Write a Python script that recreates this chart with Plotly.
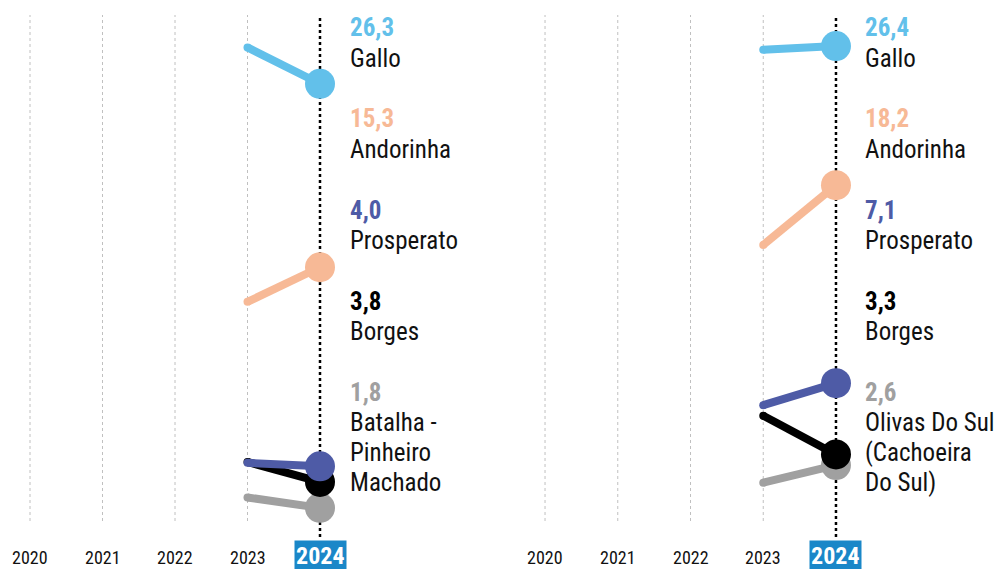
import plotly.graph_objects as go

# ---------------- data ----------------
years = [2020, 2021, 2022, 2023, 2024]
candidates = ["Gallo", "Andorinha", "Prosperato", "Borges", "Batalha"]
colors = ["#62c0ea", "#f7b996", "#4e5ba6", "#000000", "#a0a0a0"]

# left panel
left_2023 = [28.4, 13.7, 4.4, 4.45, 2.4]
left_2024 = [26.3, 15.7, 4.2, 3.3, 1.8]
left_labels = ["26,3", "15,3", "4,0", "3,8", "1,8"]
left_names = [["Gallo"], ["Andorinha"], ["Prosperato"], ["Borges"],
              ["Batalha -", "Pinheiro", "Machado"]]

# right panel
right_2023 = [26.2, 15.1, 6.0, 5.4, 1.6]
right_2024 = [26.4, 18.5, 7.25, 3.2, 2.6]
right_labels = ["26,4", "18,2", "7,1", "3,3", "2,6"]
right_names = [["Gallo"], ["Andorinha"], ["Prosperato"], ["Borges"],
               ["Olivas Do Sul", "(Cachoeira", "Do Sul)"]]

FONT = "Liberation Sans Narrow, Roboto Condensed, Arial Narrow, DejaVu Sans Condensed, sans-serif"
W, H = 1000, 569

fig = go.Figure()

panels = [
    dict(xa="x", ya="y", d2023=left_2023, d2024=left_2024, labels=left_labels,
         names=left_names, domain=[0.00825, 0.34175], yrange=[-1.733, 31.14], textx=348),
    dict(xa="x2", ya="y2", d2023=right_2023, d2024=right_2024, labels=right_labels,
         names=right_names, domain=[0.5232, 0.8578], yrange=[-3.307, 29.02], textx=863),
]

def py(px):
    return 1 - px / H

annotations = []
shapes = []
for p in panels:
    # gridlines
    for yr in years:
        if yr == 2024:
            shapes.append(dict(type="line", xref=p["xa"], yref="paper", x0=yr, x1=yr,
                               y0=py(537), y1=py(15),
                               line=dict(color="#000000", width=2.5, dash="dot"), layer="below"))
        else:
            shapes.append(dict(type="line", xref=p["xa"], yref="paper", x0=yr, x1=yr,
                               y0=py(521), y1=py(15),
                               line=dict(color="#c0c0c0", width=1, dash="dot"), layer="below"))
    # series (drawn bottom-most candidate first)
    for i in reversed(range(len(candidates))):
        fig.add_trace(go.Scatter(
            x=[2023, 2024], y=[p["d2023"][i], p["d2024"][i]],
            mode="lines+markers", xaxis=p["xa"], yaxis=p["ya"],
            line=dict(color=colors[i], width=8),
            marker=dict(color=colors[i], size=[8, 30], opacity=1, line=dict(width=0)),
            opacity=1, cliponaxis=False, showlegend=False, hoverinfo="skip",
            name=candidates[i]))
    # labels
    for i in range(len(candidates)):
        top = 28 + 91 * i
        annotations.append(dict(
            xref="paper", yref="paper", x=p["textx"] / W, y=py(top),
            xanchor="left", yanchor="middle", showarrow=False,
            text="<b>" + p["labels"][i] + "</b>",
            font=dict(family=FONT, size=25, color=colors[i])))
        for k, nm in enumerate(p["names"][i]):
            annotations.append(dict(
                xref="paper", yref="paper", x=p["textx"] / W, y=py(top + 30 * (k + 1)),
                xanchor="left", yanchor="middle", showarrow=False,
                text=nm, font=dict(family=FONT, size=25, color="#111111")))
    # year labels
    for yr in years:
        if yr == 2024:
            annotations.append(dict(
                xref=p["xa"], yref="paper", x=yr, y=py(556), xanchor="center", yanchor="middle",
                showarrow=False, text="<b>" + str(yr) + "</b>",
                font=dict(family=FONT, size=24, color="#ffffff"),
                bgcolor="#1a87c8", borderpad=1))
        else:
            annotations.append(dict(
                xref=p["xa"], yref="paper", x=yr, y=py(557), xanchor="center", yanchor="middle",
                showarrow=False, text=str(yr),
                font=dict(family=FONT, size=18, color="#111111")))

axis_common = dict(showgrid=False, zeroline=False, showticklabels=False, showline=False,
                   ticks="", fixedrange=True)
fig.update_layout(
    width=W, height=H,
    margin=dict(l=0, r=0, t=0, b=0),
    paper_bgcolor="#ffffff", plot_bgcolor="rgba(0,0,0,0)",
    xaxis=dict(domain=panels[0]["domain"], range=[2019.7, 2024.3], anchor="y", **axis_common),
    yaxis=dict(domain=[0, 1], range=panels[0]["yrange"], anchor="x", **axis_common),
    xaxis2=dict(domain=panels[1]["domain"], range=[2019.7, 2024.3], anchor="y2", **axis_common),
    yaxis2=dict(domain=[0, 1], range=panels[1]["yrange"], anchor="x2", **axis_common),
    annotations=annotations, shapes=shapes,
    showlegend=False,
)

fig.write_html("out.html", config={"displayModeBar": False},
               post_script="document.body.style.margin='0px';document.body.style.overflow='hidden';")
